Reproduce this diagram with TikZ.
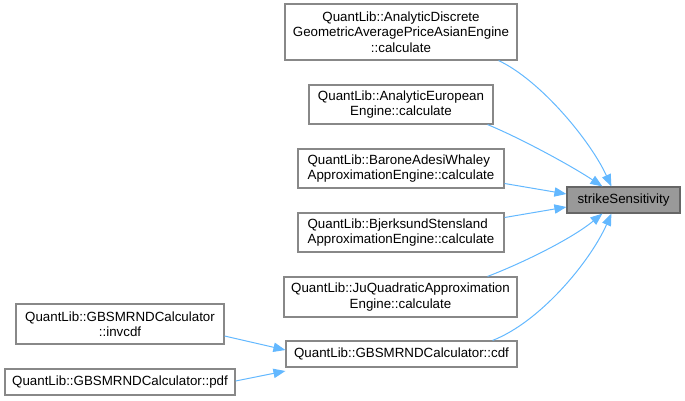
\documentclass[tikz,border=0pt]{standalone}
\usepackage{fontspec}
\setmainfont{Liberation Sans}
\usetikzlibrary{arrows.meta,calc}
\definecolor{edgeblue}{HTML}{63B8FF}
\definecolor{boxborder}{HTML}{888888}
\definecolor{hlfill}{HTML}{999999}
\definecolor{hlborder}{HTML}{666666}
\tikzset{
  fn/.style={draw=boxborder, fill=white, line width=0.9pt, inner sep=0pt, align=center,
    font=\fontsize{10}{11.6}\selectfont},
  fnl/.style={fn, align=left},
  hl/.style={fn, draw=hlborder, fill=hlfill},
  call/.style={draw=edgeblue, line width=0.75pt, -{Triangle[length=9pt,width=7pt,fill=edgeblue]}}
}
\begin{document}
\begin{tikzpicture}[x=0.75pt,y=-0.75pt]
\useasboundingbox (0,0) rectangle (685,400);
\node[fn, minimum width=232*0.75pt, minimum height=56*0.75pt] (a1) at (401,32)
  {QuantLib::AnalyticDiscrete\\GeometricAveragePriceAsianEngine\\::calculate};
\node[fn, minimum width=184*0.75pt, minimum height=39*0.75pt] (a2) at (401,104.5)
  {QuantLib::AnalyticEuropean\\Engine::calculate};
\node[fnl, minimum width=206*0.75pt, minimum height=39*0.75pt] (a3) at (401,168.5)
  {QuantLib::BaroneAdesiWhaley\\ApproximationEngine::calculate};
\node[fnl, minimum width=206*0.75pt, minimum height=39*0.75pt] (a4) at (401,232.5)
  {QuantLib::BjerksundStensland\\ApproximationEngine::calculate};
\node[fn, minimum width=233*0.75pt, minimum height=40*0.75pt] (a5) at (400.5,297)
  {QuantLib::JuQuadraticApproximation\\Engine::calculate};
\node[fn, minimum width=231*0.75pt, minimum height=26*0.75pt] (cdf) at (401.5,354)
  {QuantLib::GBSMRNDCalculator::cdf};
\node[fn, minimum width=208*0.75pt, minimum height=40*0.75pt] (inv) at (120,324)
  {QuantLib::GBSMRNDCalculator\\::invcdf};
\node[fn, minimum width=230*0.75pt, minimum height=26*0.75pt] (pdf) at (120,382)
  {QuantLib::GBSMRNDCalculator::pdf};
\node[hl, minimum width=113*0.75pt, minimum height=26*0.75pt] (s) at (623.5,200)
  {strikeSensitivity};

\coordinate (s1) at ($(s.north west)+(45,0)$);
\coordinate (s2) at ($(s.north west)+(36,0)$);
\coordinate (s5) at ($(s.south west)+(36,0)$);
\coordinate (s6) at ($(s.south west)+(45,0)$);

\draw[call] ($(a1.south east)+(-19,0)$) .. controls (540,80) and (590,140) .. (s1);
\draw[call] ($(a2.south east)+(-6,0)$) .. controls (520,138) and (570,165) .. (s2);
\draw[call] ($(a3.east)+(0,15)$) -- ($(s.west)+(0,-6)$);
\draw[call] ($(a4.east)+(0,-15)$) -- ($(s.west)+(0,7)$);
\draw[call] ($(a5.north east)+(-30,0)$) .. controls (520,264) and (570,240) .. (s5);
\draw[call] ($(cdf.north east)+(-25,0)$) .. controls (540,322) and (590,262) .. (s6);
\draw[call] ($(inv.east)+(0,12)$) -- ($(cdf.west)+(0,-4)$);
\draw[call] ($(pdf.east)+(0,-1)$) -- ($(cdf.west)+(0,17)$);
\end{tikzpicture}
\end{document}
